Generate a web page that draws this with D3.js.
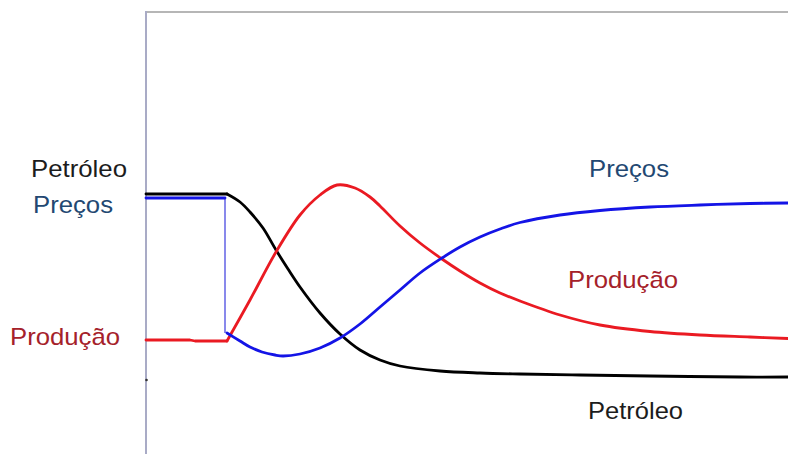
<!DOCTYPE html>
<html>
<head>
<meta charset="utf-8">
<script src="https://cdn.jsdelivr.net/npm/d3@7"></script>
<style>
  html, body { margin: 0; padding: 0; background: #fff; }
  svg { display: block; }
  text { font-family: "Liberation Sans", Arial, sans-serif; font-size: 24px; }
</style>
</head>
<body>
<svg id="chart" width="788" height="454"></svg>
<script>
// tempo (0 = borda esquerda do quadro) e nível (0 = base da figura)
const choque = 81;

const petroleoT = [0, 81, 94, 104, 117, 130, 142, 154, 174, 194, 214, 234, 254, 294, 334, 374, 434, 504, 594, 642];
const petroleoV = [260, 260, 252, 242, 226, 204, 185, 167, 141, 120, 104, 94, 88, 83, 81, 80, 79, 78, 77, 77];

const producaoT = [0, 44, 49, 81, 104, 130, 154, 174, 191, 209, 224, 234, 254, 274, 296, 314, 334, 354, 374, 414, 454, 504, 554, 604, 642];
const producaoV = [114, 114, 113, 113, 154, 202, 239, 259, 269, 266, 257, 248, 228, 211, 195, 183, 171, 161, 153, 139, 129, 122.5, 119, 117, 115.5];

const precosAntesT = [0, 79];
const precosAntesV = [256, 256];
const precosT = [81, 94, 104, 116, 129, 137, 154, 174, 194, 214, 234, 254, 274, 296, 314, 334, 354, 374, 414, 454, 504, 554, 604, 642];
const precosV = [121, 113, 107, 102, 99, 98, 100, 106, 116, 130, 147, 164, 181, 196, 207, 217, 225, 231.5, 239, 243.5, 247, 249, 250.5, 251];

const rotulos = ["Petróleo", "Preços", "Produção"];
const cores = { "Petróleo": "#000000", "Preços": "#1414e6", "Produção": "#ea1a22" };
const coresTexto = { "Petróleo": "#1c1c1c", "Preços": "#234872", "Produção": "#a5212a" };

const svg = d3.select("#chart");
const x = d3.scaleLinear().domain([0, 642]).range([146, 788]);
const y = d3.scaleLinear().domain([0, 442]).range([454, 12]);

// quadro
svg.append("line")
  .attr("x1", 146).attr("x2", 788).attr("y1", 12).attr("y2", 12)
  .attr("stroke", "#b6b6b6").attr("stroke-width", 2);
svg.append("line")
  .attr("x1", 146).attr("x2", 146).attr("y1", 11).attr("y2", 454)
  .attr("stroke", "#a9abc6").attr("stroke-width", 2);
svg.append("circle").attr("cx", 146.5).attr("cy", 380).attr("r", 1.3).attr("fill", "#333");

const reta = d3.line().x(d => x(d[0])).y(d => y(d[1]));
const curva = d3.line()
  .x(d => x(d[0]))
  .y(d => y(d[1]))
  .curve(d3.curveCatmullRom.alpha(0.5));

const zip = (a, b) => a.map((t, i) => [t, b[i]]);

// preços: degrau vertical fino
svg.append("path")
  .attr("d", reta([[precosAntesT[1], precosAntesV[1]], [precosAntesT[1], precosV[0]]]))
  .attr("fill", "none").attr("stroke", "#4a4ae0").attr("stroke-width", 1.3);

// cada série: trecho antes do choque (reto) + trecho depois (curvo)
const series = [];
[["Petróleo", petroleoT, petroleoV], ["Produção", producaoT, producaoV]].forEach(([nome, T, V]) => {
  const pts = zip(T, V);
  series.push({ nome, d: reta(pts.filter(p => p[0] <= choque)) });
  series.push({ nome, d: curva(pts.filter(p => p[0] >= choque)) });
});
series.push({ nome: "Preços", d: reta(zip(precosAntesT, precosAntesV)) });
series.push({ nome: "Preços", d: curva(zip(precosT, precosV)) });

// ordem de desenho: preto, vermelho, azul
const ordem = { "Petróleo": 0, "Produção": 1, "Preços": 2 };
series.sort((a, b) => ordem[a.nome] - ordem[b.nome]);

svg.selectAll("path.serie")
  .data(series)
  .enter()
  .append("path")
  .attr("class", "serie")
  .attr("d", d => d.d)
  .attr("fill", "none")
  .attr("stroke", d => cores[d.nome])
  .attr("stroke-width", 2.8)
  .attr("stroke-linejoin", "round")
  .attr("stroke-linecap", "round");

// rótulos
const etiquetas = [
  { texto: rotulos[0], x: 31, y: 177, w: 96 },
  { texto: rotulos[1], x: 33, y: 213, w: 80 },
  { texto: rotulos[2], x: 10, y: 345, w: 110 },
  { texto: rotulos[1], x: 589, y: 177, w: 80 },
  { texto: rotulos[2], x: 568, y: 288, w: 110 },
  { texto: rotulos[0], x: 588, y: 419, w: 95 }
];

svg.selectAll("text.rotulo")
  .data(etiquetas)
  .enter()
  .append("text")
  .attr("class", "rotulo")
  .attr("x", d => d.x)
  .attr("y", d => d.y)
  .attr("textLength", d => d.w)
  .attr("lengthAdjust", "spacingAndGlyphs")
  .attr("fill", d => coresTexto[d.texto])
  .text(d => d.texto);
</script>
</body>
</html>
